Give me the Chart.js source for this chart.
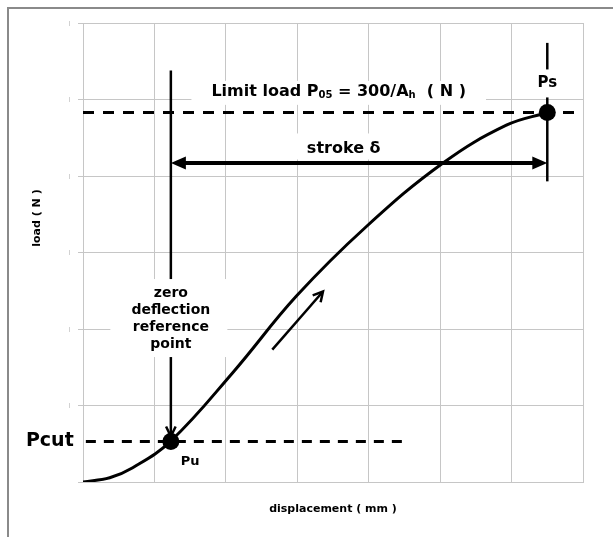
<!DOCTYPE html>
<html>
<head>
  <meta charset="utf-8">
  <title>Load vs displacement</title>
  <script src="https://cdn.jsdelivr.net/npm/chart.js"></script>
  <style>
    body { margin: 0; background: #fff; }
    #wrap { position: relative; width: 613px; height: 537px; overflow: hidden; }
    #frame { position: absolute; left: 7px; top: 7px; width: 620px; height: 540px;
             border-top: 2px solid #8a8a8a; border-left: 2px solid #8a8a8a; }
    canvas { position: absolute; left: 0; top: 0; }
  </style>
</head>
<body>
  <div id="wrap">
    <div id="frame"></div>
    <canvas id="chart" width="613" height="537"></canvas>
  </div>

  <script>
    // load-displacement curve, in grid units
    const dispX = [0, 0.374, 0.696, 1.224, 2.096, 2.988, 3.968, 5.040, 5.927, 6.500];
    const loadY = [0, 0.056, 0.187, 0.531, 1.429, 2.430, 3.340, 4.170, 4.664, 4.830];

    const limitLoad = 4.83;
    const pcutLoad = 0.53;
    const pcutSpan = [0.04, 4.5];
    const puPoint = [1.23, 0.53];
    const psPoint = [6.5, 4.83];
    const xRange = [0, 7];
    const yRange = [0, 6];

    // annotations (data units)
    const zeroLineTop = 5.38;
    const psLineSpan = [5.74, 3.93];
    const strokeY = 4.17;
    const riseArrow = [[2.65, 1.73], [3.36, 2.49]];
    const zeroLabel = ['zero', 'deflection', 'reference', 'point'];

    const FONT = "'DejaVu Sans', sans-serif";
    const GRID = '#c6c6c6';

    function seg(ctx, x1, y1, x2, y2, w) {
      ctx.lineWidth = w;
      ctx.beginPath(); ctx.moveTo(x1, y1); ctx.lineTo(x2, y2); ctx.stroke();
    }
    function solidHead(ctx, tx, ty, ang, len, half) {
      const c = Math.cos(ang), s = Math.sin(ang);
      ctx.beginPath();
      ctx.moveTo(tx, ty);
      ctx.lineTo(tx - len*c - half*s, ty - len*s + half*c);
      ctx.lineTo(tx - len*c + half*s, ty - len*s - half*c);
      ctx.closePath(); ctx.fill();
    }
    function openHead(ctx, tx, ty, ang, len, spread, w) {
      ctx.lineWidth = w;
      ctx.beginPath();
      ctx.moveTo(tx - len*Math.cos(ang - spread), ty - len*Math.sin(ang - spread));
      ctx.lineTo(tx, ty);
      ctx.lineTo(tx - len*Math.cos(ang + spread), ty - len*Math.sin(ang + spread));
      ctx.stroke();
    }
    function box(ctx, cx, cy, w, h) {
      ctx.save(); ctx.fillStyle = '#fff';
      ctx.fillRect(cx - w/2, cy - h/2, w, h);
      ctx.restore();
    }

    const notes = {
      id: 'notes',
      afterDatasetsDraw(chart) {
        const {ctx, scales: {x, y}} = chart;
        const px = v => x.getPixelForValue(v), py = v => y.getPixelForValue(v);
        ctx.save();
        ctx.strokeStyle = '#000'; ctx.fillStyle = '#000';
        ctx.lineCap = 'butt';

        // zero deflection line down to Pu
        const zx = px(puPoint[0]), zTip = py(puPoint[1]) - 5;
        seg(ctx, zx, py(zeroLineTop), zx, zTip, 2.5);
        openHead(ctx, zx, zTip, Math.PI/2, 11, 0.45, 2.5);

        // Ps vertical marker
        const sx = px(psPoint[0]);
        seg(ctx, sx, py(psLineSpan[0]), sx, py(psLineSpan[1]), 2.5);

        // stroke double arrow
        const sy = py(strokeY);
        seg(ctx, zx + 10, sy, sx - 10, sy, 4);
        solidHead(ctx, zx, sy, Math.PI, 15, 6.5);
        solidHead(ctx, sx, sy, 0, 15, 6.5);

        // loading direction arrow
        const ax1 = px(riseArrow[0][0]), ay1 = py(riseArrow[0][1]);
        const ax2 = px(riseArrow[1][0]), ay2 = py(riseArrow[1][1]);
        seg(ctx, ax1, ay1, ax2, ay2, 2.5);
        openHead(ctx, ax2, ay2, Math.atan2(ay2 - ay1, ax2 - ax1), 11, 0.5, 2.5);

        ctx.textBaseline = 'middle';

        // limit load label with subscripts
        const big = 'bold 16px ' + FONT, small = 'bold 10px ' + FONT;
        const parts = [['Limit load P', big, 0], ['05', small, 4], [' = 300/A', big, 0], ['h', small, 4], ['  ( N )', big, 0]];
        let total = 0;
        parts.forEach(p => { ctx.font = p[1]; total += ctx.measureText(p[0]).width; });
        const lx = px(3.58), ly = py(5.10);
        box(ctx, lx, ly + 1, total + 40, 24);
        let cx = lx - total/2;
        ctx.textAlign = 'left';
        parts.forEach(p => { ctx.font = p[1]; ctx.fillText(p[0], cx, ly + p[2]); cx += ctx.measureText(p[0]).width; });

        // stroke label
        ctx.font = big; ctx.textAlign = 'center';
        const tx = px(3.65), ty = py(4.36);
        box(ctx, tx, ty - 2, ctx.measureText('stroke δ').width + 46, 26);
        ctx.fillText('stroke δ', tx, ty);

        // zero deflection label
        ctx.font = 'bold 14px ' + FONT;
        const z0 = py(2.47);
        box(ctx, zx - 2, z0 + 25, 117, 78);
        zeroLabel.forEach((t, i) => ctx.fillText(t, zx, z0 + i*17));

        // Ps / Pu / Pcut
        ctx.font = 'bold 15px ' + FONT;
        box(ctx, sx, py(5.21), 40, 28);
        ctx.fillText('Ps', sx, py(5.21));
        ctx.font = 'bold 13px ' + FONT;
        ctx.fillText('Pu', px(1.5), py(0.265));
        ctx.font = 'bold 19px ' + FONT; ctx.textAlign = 'right';
        ctx.fillText('Pcut', px(-0.13), py(pcutLoad));
        ctx.restore();
      }
    };

    const pts = (xs, ys) => xs.map((v, i) => ({x: v, y: ys[i]}));

    new Chart(document.getElementById('chart'), {
      type: 'scatter',
      data: {
        datasets: [
          { data: pts(dispX, loadY), showLine: true, borderColor: '#000', borderWidth: 3,
            pointRadius: 0, tension: 0.4 },
          { data: pts(xRange, [limitLoad, limitLoad]), showLine: true, borderColor: '#000',
            borderWidth: 3, borderDash: [11, 9], pointRadius: 0 },
          { data: pts(pcutSpan, [pcutLoad, pcutLoad]), showLine: true, borderColor: '#000',
            borderWidth: 3, borderDash: [10, 8], pointRadius: 0 },
          { data: pts([puPoint[0], psPoint[0]], [puPoint[1], psPoint[1]]), showLine: false,
            pointRadius: 8.5, backgroundColor: '#000', borderColor: '#000', borderWidth: 0 }
        ]
      },
      options: {
        responsive: false,
        animation: false,
        events: [],
        layout: { padding: { top: 23, right: 30, left: 0, bottom: 0 } },
        plugins: { legend: { display: false }, tooltip: { enabled: false } },
        scales: {
          x: {
            min: xRange[0], max: xRange[1],
            ticks: { stepSize: 1, display: false },
            grid: { color: GRID, drawTicks: false },
            border: { color: GRID },
            title: { display: true, text: 'displacement ( mm )', color: '#000',
                     font: { family: FONT, size: 11, weight: 'bold' }, padding: { top: 0, bottom: 21 } },
            afterFit: s => { s.height = 55; }
          },
          y: {
            min: yRange[0], max: yRange[1],
            ticks: { stepSize: 1, padding: 8, color: '#a8a8a8', font: { size: 6 },
                     callback: v => v === 0 ? '' : '|' },
            grid: { color: GRID, tickLength: 5 },
            border: { color: GRID },
            title: { display: true, text: '\u00a0'.repeat(18) + 'load ( N )', color: '#000',
                     font: { family: FONT, size: 11, weight: 'bold' }, padding: { top: 31, bottom: 0 } },
            afterFit: s => { s.width = 83; }
          }
        }
      },
      plugins: [notes]
    });
  </script>
</body>
</html>
